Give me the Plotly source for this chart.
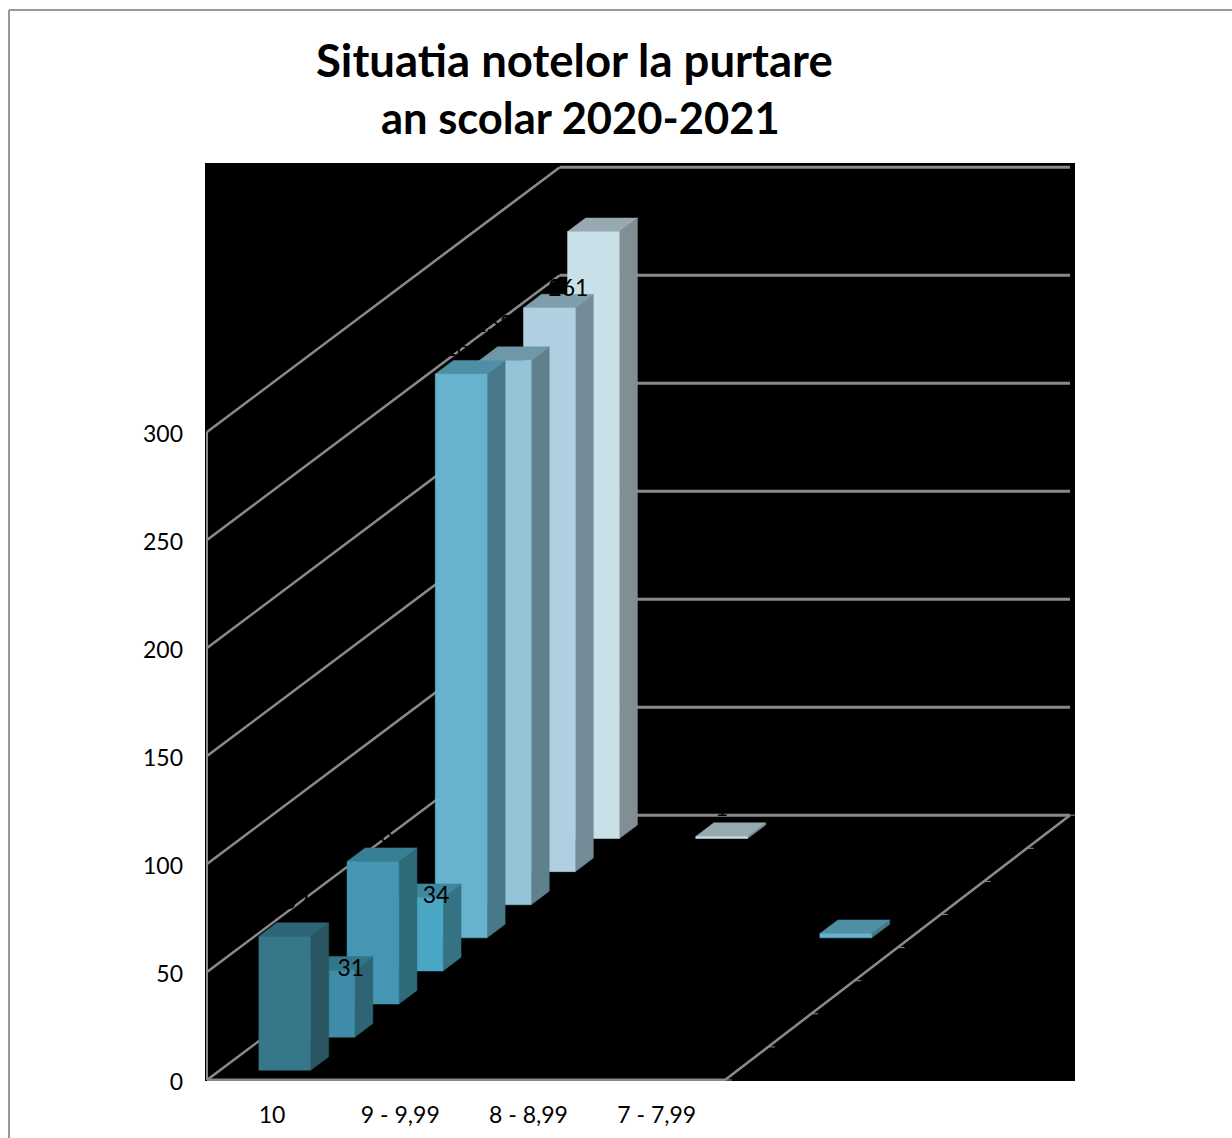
import plotly.graph_objects as go

CATEGORIES = ["10", "9 - 9,99", "8 - 8,99", "7 - 7,99"]
SERIES_1 = [62, 0, 0, 0]
SERIES_2 = [31, 0, 0, 0]
SERIES_3 = [66, 0, 0, 0]
SERIES_4 = [34, 0, 0, 0]
SERIES_5 = [261, 0, 0, 2]
SERIES_6 = [252, 0, 0, 0]
SERIES_7 = [261, 0, 0, 0]
SERIES_8 = [281, 1, 0, 0]
Y_TICKS = [0, 50, 100, 150, 200, 250, 300]
TITLE_LINE_1 = "<b>Situatia notelor la purtare</b>"
TITLE_LINE_2 = "<b>an scolar 2020-2021</b>"

FRONT = ["#37778A", "#3E8CA8", "#4496B3", "#4AA7C4", "#67B3CD", "#93C3D7", "#B0D0E1", "#C8E0E8"]
SIDE = ["#2A5662", "#2E6473", "#2F6A7B", "#357283", "#47798A", "#5F808D", "#748C98", "#818E94"]
TOP = ["#2F6576", "#33758A", "#387E95", "#3E879E", "#4F8FA5", "#6F97A8", "#7F9EAC", "#97A9B1"]

ALL_SERIES = [SERIES_1, SERIES_2, SERIES_3, SERIES_4, SERIES_5, SERIES_6, SERIES_7, SERIES_8]
ROWS = len(ALL_SERIES)
COLS = len(CATEGORIES)

# Oblique projection, expressed in axis units
PX_X = 129.5   # pixels per category
PX_Y = 2.16    # pixels per value unit
DX = 44.1 / PX_X   # x shift per depth row
DY = 33.1 / PX_Y   # y shift per depth row
COL_STEP = 0.99    # spacing of the columns along the floor
BACK_W = 3.94      # floor width at the back wall (slight foreshortening)
BAR_W = 0.40
BAR_D = 0.41
GRID = "#8A8A8A"
FONT = "Lato"

# label shift from the bar's top-front centre, in pixels (right, up)
LABEL_SHIFT = {
    (0, 0): (11, 33), (1, 0): (22, 0), (2, 0): (7, 24), (3, 0): (19, 0),
    (4, 0): (2, 24), (5, 0): (-12, 34), (6, 0): (19, 18), (7, 0): (19, 20),
    (7, 1): (0, 26), (4, 3): (0, 40),
}


def proj(col, val, depth):
    return col + depth * DX, val + depth * DY


def line(fig, pts, width):
    xs, ys = [], []
    for p in pts:
        if p is None:
            xs.append(None)
            ys.append(None)
        else:
            xs.append(p[0])
            ys.append(p[1])
    fig.add_trace(go.Scatter(x=xs, y=ys, mode="lines", line=dict(color=GRID, width=width),
                             hoverinfo="skip", showlegend=False))


def face(fig, pts, color):
    pts = pts + [pts[0]]
    fig.add_trace(go.Scatter(x=[p[0] for p in pts], y=[p[1] for p in pts], mode="lines",
                             fill="toself", fillcolor=color, line=dict(color=color, width=0.5),
                             hoverinfo="skip", showlegend=False))


fig = go.Figure()

# Walls and floor
wall = []
for t in Y_TICKS:
    wall += [proj(0, t, 0), proj(0, t, ROWS), None]
line(fig, wall, 2.5)
back = []
for t in Y_TICKS:
    back += [proj(0, t, ROWS), proj(BACK_W, t, ROWS), None]
line(fig, back, 3)
line(fig, [proj(0, 0, 0), proj(0, Y_TICKS[-1], 0)], 2)
line(fig, [proj(0, 0, 0), proj(COLS, 0, 0)], 3)
line(fig, [proj(COLS, 0, 0), proj(BACK_W, 0, ROWS)], 2.5)
ticks = []
for r in range(ROWS + 1):
    a = proj(COLS + (BACK_W - COLS) * r / ROWS, 0, r)
    ticks += [a, (a[0] + 7 / PX_X, a[1]), None]
line(fig, ticks, 1)

# Bars from back to front, each followed by its label
for r in range(ROWS - 1, -1, -1):
    for c in range(COLS - 1, -1, -1):
        v = ALL_SERIES[r][c]
        if v == 0:
            continue
        x0 = c * COL_STEP + (1 - BAR_W) / 2
        x1 = x0 + BAR_W
        d0 = r + (1 - BAR_D) / 2
        d1 = d0 + BAR_D
        face(fig, [proj(x1, 0, d0), proj(x1, 0, d1), proj(x1, v, d1), proj(x1, v, d0)], SIDE[r])
        face(fig, [proj(x0, v, d0), proj(x1, v, d0), proj(x1, v, d1), proj(x0, v, d1)], TOP[r])
        face(fig, [proj(x0, 0, d0), proj(x1, 0, d0), proj(x1, v, d0), proj(x0, v, d0)], FRONT[r])
        sx, sy = LABEL_SHIFT[(r, c)]
        lx, ly = proj((x0 + x1) / 2, v, d0)
        fig.add_trace(go.Scatter(x=[lx + sx / PX_X], y=[ly + sy / PX_Y], mode="text",
                                 text=[str(v if v != 2 else 1)], textposition="middle center",
                                 textfont=dict(family=FONT, size=23, color="#000000"),
                                 hoverinfo="skip", showlegend=False))

W, H = 1232, 1138
L, R, T, B = 205, 1075, 163, 1081
fig.update_layout(
    width=W, height=H, margin=dict(l=0, r=0, t=0, b=0, autoexpand=False),
    paper_bgcolor="#FFFFFF", plot_bgcolor="#000000", showlegend=False,
    xaxis=dict(domain=[L / W, R / W], range=[(L - 207) / PX_X, (R - 207) / PX_X],
               tickvals=[(i + 0.5) * COL_STEP + 1 / PX_X for i in range(COLS)], ticktext=CATEGORIES,
               tickangle=0, showgrid=False, zeroline=False, showline=False, ticks="",
               ticklabelstandoff=18, tickfont=dict(family=FONT, size=23, color="#000000")),
    yaxis=dict(domain=[1 - B / H, 1 - T / H], range=[(1080 - B) / PX_Y, (1080 - T) / PX_Y],
               tickvals=Y_TICKS, showgrid=False, zeroline=False, showline=False, ticks="",
               ticklabelstandoff=21, ticklabelshift=2,
               tickfont=dict(family=FONT, size=23, color="#000000")),
    annotations=[
        dict(text=TITLE_LINE_1, xref="paper", yref="paper", x=574 / W, y=1 - 59 / H,
             xanchor="center", yanchor="middle", showarrow=False,
             font=dict(family=FONT, size=45.5, color="#000000")),
        dict(text=TITLE_LINE_2, xref="paper", yref="paper", x=580 / W, y=1 - 117 / H,
             xanchor="center", yanchor="middle", showarrow=False,
             font=dict(family=FONT, size=43.5, color="#000000")),
    ],
    shapes=[
        dict(type="line", xref="paper", yref="paper", x0=9 / W, x1=1,
             y0=1 - 10 / H, y1=1 - 10 / H, line=dict(color="#989898", width=2)),
        dict(type="line", xref="paper", yref="paper", x0=9 / W, x1=9 / W,
             y0=1 - 10 / H, y1=0, line=dict(color="#989898", width=2)),
    ],
)
fig.write_html("out.html", config={"displayModeBar": False},
               post_script="document.body.style.margin='0';document.body.style.overflow='hidden';")
